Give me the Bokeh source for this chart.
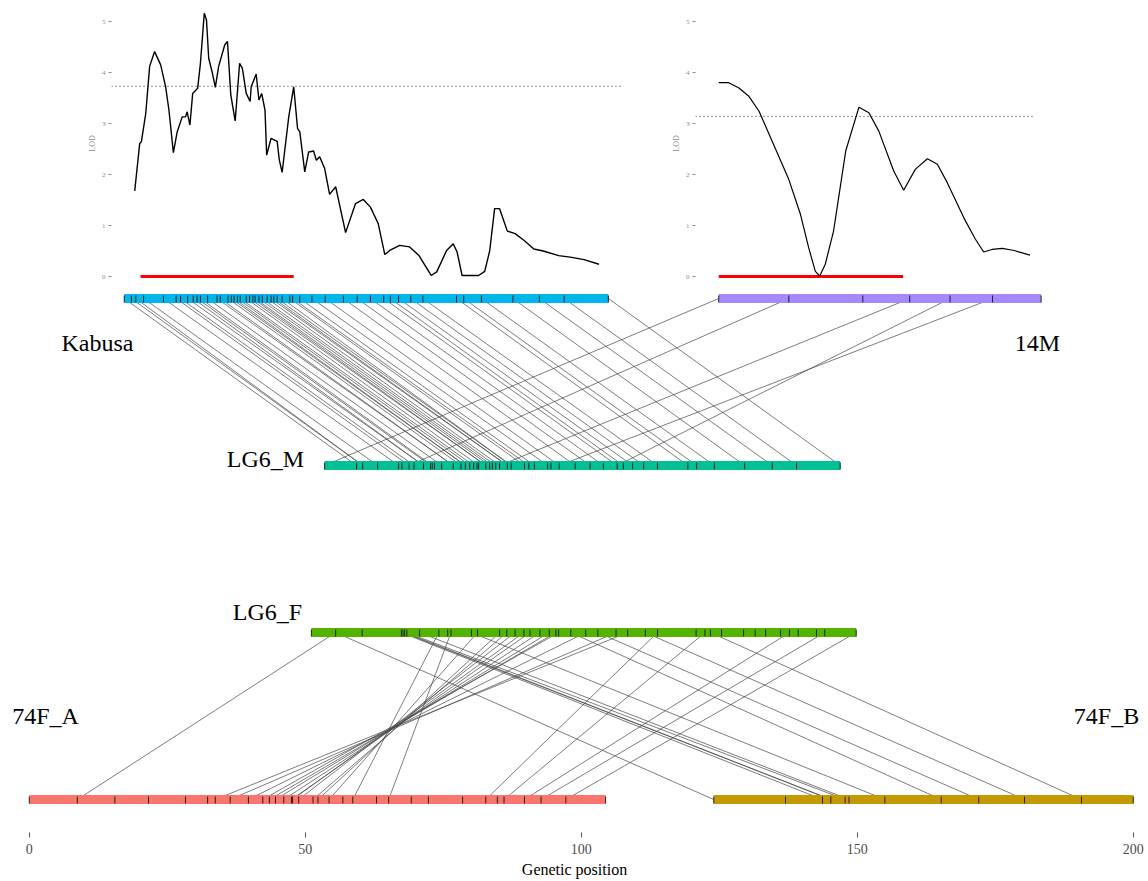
from bokeh.plotting import figure
from bokeh.models import Range1d, Span, FixedTicker
from bokeh.layouts import column, row, Spacer
from bokeh.embed import file_html
from bokeh.resources import INLINE
from bokeh.core.properties import value

SERIF = "Liberation Serif"

# ---------------- data (genetic positions, cM) ----------------
map_names = ["Kabusa", "14M", "LG6_M", "LG6_F", "74F_A", "74F_B"]
map_start = [17.2, 124.9, 53.5, 51.1, 0.0, 124.0]
map_end = [104.9, 183.3, 146.9, 149.8, 104.4, 200.0]

kabusa_markers = [17.2, 18.5, 19.3, 20.7, 24.3, 26.6, 27.4, 28.7, 29.7, 30.4, 31.0, 32.3, 34.0, 34.6,
                  36.0, 36.6, 37.1, 37.7, 38.2, 39.3, 39.9, 40.5, 40.9, 41.6, 42.2, 43.1, 43.8, 44.3,
                  44.9, 45.8, 47.2, 47.7, 49.0, 51.2, 53.6, 56.9, 59.4, 61.8, 64.2, 65.4, 66.9, 69.1,
                  71.3, 77.4, 78.7, 81.9, 87.6, 92.4, 96.9, 104.9]
m14_markers = [124.9, 137.6, 151.0, 159.5, 166.8, 174.5, 183.3]
lg6m_markers = [53.5, 59.3, 60.4, 63.1, 66.9, 67.5, 68.8, 69.7, 71.4, 72.7, 73.0, 73.4, 74.7, 76.8,
                78.2, 79.0, 79.8, 80.5, 81.1, 81.4, 82.7, 83.4, 83.9, 84.5, 85.2, 86.6, 87.3, 89.7,
                90.5, 91.5, 93.9, 94.5, 96.0, 98.9, 101.6, 104.0, 106.5, 107.6, 109.3, 111.3, 113.8,
                119.3, 120.9, 124.1, 129.6, 134.6, 139.0, 146.9]
lg6f_markers = [51.1, 55.5, 60.3, 67.4, 67.7, 68.0, 68.4, 70.7, 74.2, 75.8, 76.4, 80.1, 81.2, 85.2,
                86.5, 88.0, 89.6, 90.7, 92.5, 94.2, 95.4, 95.9, 98.1, 100.8, 103.0, 106.3, 108.4,
                111.6, 113.8, 120.8, 122.4, 123.4, 125.4, 129.4, 131.5, 133.4, 136.1, 137.7, 139.3,
                142.6, 144.1, 149.8]
f74a_markers = [0.0, 8.7, 15.5, 21.6, 28.3, 32.3, 33.7, 36.4, 39.7, 42.3, 43.5, 44.6, 46.1, 47.5,
                47.7, 48.8, 51.4, 52.3, 54.3, 56.8, 58.6, 62.9, 65.1, 69.2, 72.3, 78.5, 82.7, 84.8,
                86.0, 89.7, 92.7, 97.2, 104.4]
f74b_markers = [124.0, 137.0, 143.7, 145.2, 147.8, 148.5, 155.0, 165.2, 172.0, 180.3, 190.6, 200.0]

# shared markers (links)
kab_link_kab = [17.2, 18.5, 19.3, 20.7, 24.3, 26.6, 27.4, 28.7, 29.7, 30.4, 31.0, 32.3, 34.0, 34.6,
                36.0, 36.6, 37.1, 37.7, 38.2, 39.3, 39.9, 40.5, 40.9, 41.6, 42.2, 43.1, 43.8, 44.3,
                44.9, 45.8, 47.2, 47.7, 49.0, 51.2, 53.6, 56.9, 59.4, 61.8, 64.2, 65.4, 66.9, 69.1,
                71.3, 77.4, 78.7, 81.9, 87.6, 92.4, 96.9, 104.9]
kab_link_lg6m = [59.3, 60.4, 60.4, 63.1, 66.9, 68.8, 69.7, 71.4, 71.4, 72.7, 73.0, 74.7, 76.8, 76.8,
                 78.2, 79.0, 79.0, 79.8, 80.5, 81.4, 82.7, 82.7, 83.4, 83.9, 84.5, 85.2, 86.6, 86.6,
                 87.3, 87.3, 89.7, 90.5, 91.5, 93.9, 96.0, 98.9, 101.6, 104.0, 106.5, 107.6, 109.3,
                 111.3, 113.8, 119.3, 120.9, 124.1, 129.6, 134.6, 139.0, 146.9]
m14_link_m14 = [124.9, 137.6, 159.5, 166.8, 174.5]
m14_link_lg6m = [53.5, 68.8, 85.2, 106.5, 96.0]
fa_link_lg6f = [55.5, 108.4, 106.3, 100.8, 95.9, 95.4, 94.2, 92.5, 90.7, 89.6, 88.0, 86.5, 85.2,
                81.2, 74.2, 76.4, 113.8, 122.4, 137.7, 144.1, 149.8]
fa_link_74fa = [8.7, 33.7, 36.4, 39.7, 42.3, 43.5, 44.6, 46.1, 47.5, 47.7, 48.8, 51.4, 52.3,
                54.3, 58.6, 65.1, 82.7, 86.0, 89.7, 92.7, 97.2]
fb_link_lg6f = [55.5, 67.4, 67.7, 68.0, 68.4, 70.7, 80.1, 98.1, 103.0, 111.6, 123.4]
fb_link_74fb = [124.0, 143.7, 145.2, 145.2, 147.8, 148.5, 155.0, 165.2, 172.0, 180.3, 190.6]

# QTL scans
kab_lod_pos = [19.1, 20.0, 20.3, 21.1, 21.8, 22.7, 23.8, 24.7, 25.3, 26.1, 26.8, 27.7, 28.3, 28.6,
               29.1, 29.6, 30.5, 31.0, 31.7, 32.1, 32.5, 33.1, 33.7, 34.3, 35.4, 35.9, 36.5, 37.3,
               38.1, 38.6, 39.3, 40.0, 40.2, 41.1, 41.6, 42.1, 42.7, 43.0, 43.8, 44.9, 45.3, 45.8,
               47.0, 47.9, 48.6, 49.0, 49.9, 50.6, 51.5, 52.0, 52.6, 53.5, 54.4, 55.5, 57.3, 59.1,
               60.5, 61.8, 63.2, 64.4, 65.3, 67.1, 68.9, 70.6, 72.8, 73.8, 75.6, 76.8, 77.5, 78.4,
               81.4, 82.5, 83.4, 84.3, 85.2, 86.6, 88.0, 89.6, 91.4, 93.1, 95.9, 98.0, 100.5, 103.2]
kab_lod = [1.68, 2.61, 2.64, 3.20, 4.12, 4.41, 4.15, 3.72, 3.26, 2.43, 2.84, 3.13, 3.13, 3.23,
           2.97, 3.59, 3.69, 4.18, 5.16, 5.03, 4.28, 4.02, 3.71, 4.12, 4.54, 4.61, 3.56, 3.05,
           4.18, 4.08, 3.59, 3.43, 3.72, 3.97, 3.46, 3.59, 3.26, 2.38, 2.71, 2.65, 2.28, 2.04,
           3.13, 3.72, 2.90, 2.84, 2.05, 2.44, 2.46, 2.28, 2.35, 2.12, 1.61, 1.76, 0.86, 1.43,
           1.51, 1.36, 1.04, 0.43, 0.51, 0.61, 0.58, 0.41, 0.02, 0.09, 0.51, 0.64, 0.48, 0.02,
           0.02, 0.10, 0.50, 1.33, 1.33, 0.89, 0.84, 0.71, 0.54, 0.50, 0.41, 0.38, 0.33, 0.24]
kab_threshold = 3.73
kab_interval = [20.15, 47.9]

m14_lod_pos = [124.9, 126.7, 128.5, 130.3, 132.2, 134.3, 137.6, 139.7, 141.2, 142.4, 143.2, 144.2,
               145.7, 147.9, 150.3, 152.1, 153.9, 156.6, 158.4, 160.5, 162.7, 164.5, 166.3, 169.3,
               171.4, 172.9, 174.4, 176.3, 178.4, 181.3]
m14_lod = [3.80, 3.80, 3.70, 3.54, 3.24, 2.72, 1.90, 1.22, 0.56, 0.10, 0.01, 0.24, 0.89, 2.46,
           3.32, 3.21, 2.85, 2.07, 1.69, 2.10, 2.31, 2.20, 1.84, 1.15, 0.73, 0.48, 0.53, 0.55,
           0.51, 0.42]
m14_threshold = 3.14
m14_interval = [124.9, 158.3]

axis_ticks = [0, 50, 100, 150, 200]
lod_ticks = [0, 1, 2, 3, 4, 5]

# ---------------- layout constants ----------------
PX0, PXU = 28.8, 5.52          # screen px of position 0, px per cM


def gpos(px):
    return (px - PX0) / PXU


PAGE = 0                       # the rendered page starts at (0, 0)
WIN_W, WIN_H = 1148, 881
TOP_H = 286
LOD0, LOD_PX = 276.0, 51.0
GREY = "#8c8c8c"


def lod_panel(fx0, fx1, border, pos, lod, thr, interval, lw):
    p = figure(width=border + fx1 - fx0, height=TOP_H,
               x_range=Range1d(gpos(fx0), gpos(fx1)),
               y_range=Range1d((LOD0 - (PAGE + TOP_H)) / LOD_PX, (LOD0 - PAGE) / LOD_PX),
               output_backend="svg", toolbar_location=None, x_axis_location=None,
               min_border_left=border, min_border_right=0, min_border_top=0, min_border_bottom=0)
    p.outline_line_color = None
    p.xgrid.visible = False
    p.ygrid.visible = False
    p.background_fill_color = "white"
    p.border_fill_color = "white"
    ax = p.yaxis[0]
    ax.ticker = FixedTicker(ticks=lod_ticks)
    ax.axis_label = "LOD"
    ax.axis_label_text_font = SERIF
    ax.axis_label_text_font_size = "8px"
    ax.axis_label_text_font_style = "normal"
    ax.axis_label_text_color = GREY
    ax.axis_label_standoff = 2
    ax.major_label_text_font = SERIF
    ax.major_label_text_font_size = "7px"
    ax.major_label_text_color = GREY
    ax.major_label_standoff = 3
    ax.axis_line_color = None
    ax.major_tick_line_color = GREY
    ax.major_tick_out = 3
    ax.major_tick_in = 0
    ax.minor_tick_line_color = None
    p.add_layout(Span(location=thr, dimension="width", line_color="#222222",
                      line_dash="1 3", line_width=1))
    p.segment(x0=[interval[0]], y0=[0], x1=[interval[1]], y1=[0],
              line_color="#FF0000", line_width=3)
    p.line(pos, lod, line_color="black", line_width=lw)
    return p


lod_left = lod_panel(111, 622, 51, kab_lod_pos, kab_lod, kab_threshold, kab_interval, 1.4)
lod_right = lod_panel(695, 1033, 48, m14_lod_pos, m14_lod, m14_threshold, m14_interval, 1.2)

# ---------------- main synteny panel ----------------
MAIN_H = WIN_H - TOP_H
FRAME_BOTTOM = 832
main = figure(width=WIN_W, height=MAIN_H,
              x_range=Range1d(gpos(0), gpos(WIN_W)),
              y_range=Range1d(WIN_H - FRAME_BOTTOM, WIN_H - TOP_H),
              output_backend="svg", toolbar_location=None, y_axis_location=None,
              min_border_left=0, min_border_right=0, min_border_top=0,
              min_border_bottom=WIN_H - FRAME_BOTTOM)
main.outline_line_color = None
main.xgrid.visible = False
main.ygrid.visible = False
main.background_fill_color = "white"
main.border_fill_color = "white"

LEVEL = {"Kabusa": WIN_H - 298, "14M": WIN_H - 298, "LG6_M": WIN_H - 465,
         "LG6_F": WIN_H - 632, "74F_A": WIN_H - 799, "74F_B": WIN_H - 799}
COLORS = {"Kabusa": "#00B6EB", "14M": "#A58AFF", "LG6_M": "#00C094",
          "LG6_F": "#53B400", "74F_A": "#F8766D", "74F_B": "#C49A00"}


def links(a_pos, a_name, b_pos, b_name):
    n = min(len(a_pos), len(b_pos))
    main.segment(x0=a_pos[:n], y0=[LEVEL[a_name]] * n, x1=b_pos[:n], y1=[LEVEL[b_name]] * n,
                 line_color="#4a4a4a", line_width=0.8, line_alpha=0.9)


links(kab_link_kab, "Kabusa", kab_link_lg6m, "LG6_M")
links(m14_link_m14, "14M", m14_link_lg6m, "LG6_M")
links(fa_link_lg6f, "LG6_F", fa_link_74fa, "74F_A")
links(fb_link_lg6f, "LG6_F", fb_link_74fb, "74F_B")

main.hbar(y=[LEVEL[n] for n in map_names], left=map_start, right=map_end, height=9,
          fill_color=[COLORS[n] for n in map_names], line_color=None)

for name, marks in [("Kabusa", kabusa_markers), ("14M", m14_markers), ("LG6_M", lg6m_markers),
                    ("LG6_F", lg6f_markers), ("74F_A", f74a_markers), ("74F_B", f74b_markers)]:
    lv = LEVEL[name]
    main.segment(x0=marks, y0=[lv - 4] * len(marks), x1=marks, y1=[lv + 3] * len(marks),
                 line_color="#222222", line_width=1)

label_px = {"Kabusa": (97, 342), "14M": (1037, 342), "LG6_M": (265, 458),
            "LG6_F": (267, 611), "74F_A": (45, 715), "74F_B": (1106, 715)}
main.text(x=[gpos(label_px[n][0]) for n in map_names],
          y=[WIN_H - label_px[n][1] for n in map_names],
          text=map_names, text_font=value(SERIF), text_font_size="24px",
          text_color="black", text_align="center", text_baseline="alphabetic")

xa = main.xaxis[0]
xa.ticker = FixedTicker(ticks=axis_ticks)
xa.axis_label = "Genetic position"
xa.axis_label_text_font = SERIF
xa.axis_label_text_font_size = "16px"
xa.axis_label_text_font_style = "normal"
xa.axis_label_text_color = "black"
xa.axis_label_standoff = 4
xa.major_label_text_font = SERIF
xa.major_label_text_font_size = "14px"
xa.major_label_text_color = "#4d4d4d"
xa.major_label_standoff = 6
xa.axis_line_color = None
xa.major_tick_line_color = "#555555"
xa.major_tick_out = 5
xa.major_tick_in = 0
xa.minor_tick_line_color = None

top = row(Spacer(width=60, height=TOP_H), lod_left, Spacer(width=25, height=TOP_H), lod_right)
layout = column(top, main)

open("out.html", "w").write(file_html(layout, INLINE))
